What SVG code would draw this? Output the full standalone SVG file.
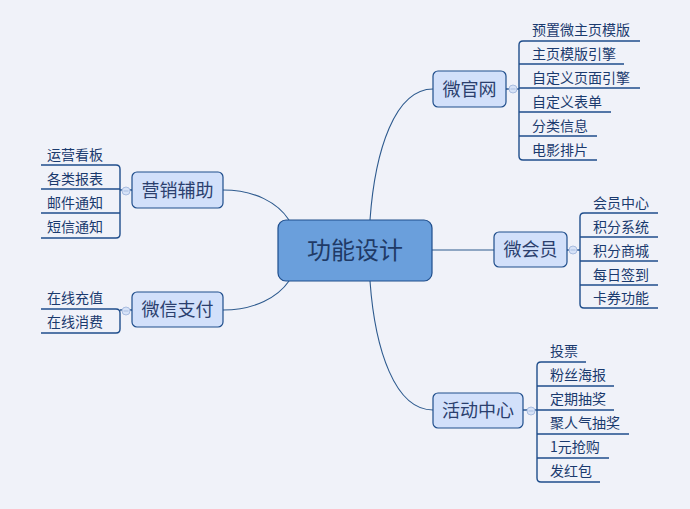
<svg xmlns="http://www.w3.org/2000/svg" width="690" height="509" viewBox="0 0 690 509">
<style>
.bg{fill:#f0f2f9}
.main{fill:#6a9fdc;stroke:#1f4e8c;stroke-width:1.2}
.sub{fill:#d2e0fa;stroke:#1f4e8c;stroke-width:1.2}
.mt{font-family:"Noto Sans CJK SC","Noto Sans",sans-serif;font-size:24px;fill:#1f3a66;text-anchor:middle}
.st{font-family:"Noto Sans CJK SC","Noto Sans",sans-serif;font-size:18px;fill:#2b3f6e;text-anchor:middle}
.lt{font-family:"Noto Sans CJK SC","Noto Sans",sans-serif;font-size:14px;fill:#1a3a6e}
.conn{fill:none;stroke:#2d5a8e;stroke-width:1.1}
.br{fill:none;stroke:#1f4e8c;stroke-width:1.4}
.cc{fill:#d6e2f7;stroke:#a9bde0;stroke-width:1}
.cm{stroke:#a9bde0;stroke-width:1}
</style>
<rect class="bg" x="0" y="0" width="690" height="509"/>
<g id="connectors">
<path class="conn" d="M370,220 C375,150 395,89 433,89"/>
<path class="conn" d="M432,250 L494,250"/>
<path class="conn" d="M370,281 C375,350 395,410 433,410"/>
<path class="conn" d="M223,190 C255,190 278,203 289,220"/>
<path class="conn" d="M223,310 C255,310 278,297 289,281"/>
</g>
<g id="center">
<rect class="main" x="278" y="220" width="154" height="61" rx="8"/>
<text class="mt" x="355" y="259">功能设计</text>
</g>
<g id="weiguanwang">
<rect class="sub" x="433" y="71" width="73" height="36" rx="5"/>
<text class="st" x="469.5" y="95.5">微官网</text>
<line class="br" x1="506" y1="89" x2="519" y2="89"/>
<circle class="cc" cx="513" cy="89" r="4"/><line class="cm" x1="510.5" y1="89" x2="515.5" y2="89"/>
<path class="br" d="M523,41 Q519,41 519,45 V156 Q519,160 523,160"/>
<path class="br" d="M523,41 H640 M519,64 H624 M519,88 H640 M519,112 H611 M519,136 H597 M523,160 H597"/>
<text class="lt" x="532" y="35">预置微主页模版</text>
<text class="lt" x="532" y="59">主页模版引擎</text>
<text class="lt" x="532" y="83">自定义页面引擎</text>
<text class="lt" x="532" y="107">自定义表单</text>
<text class="lt" x="532" y="131">分类信息</text>
<text class="lt" x="532" y="155">电影排片</text>
</g>
<g id="weihuiyuan">
<rect class="sub" x="494" y="232" width="73" height="35" rx="5"/>
<text class="st" x="530.5" y="256">微会员</text>
<line class="br" x1="567" y1="250" x2="580" y2="250"/>
<circle class="cc" cx="573" cy="250" r="4"/><line class="cm" x1="570.5" y1="250" x2="575.5" y2="250"/>
<path class="br" d="M584,213 Q580,213 580,217 V304 Q580,308 584,308"/>
<path class="br" d="M584,213 H658 M580,237 H658 M580,261 H658 M580,285 H658 M584,308 H658"/>
<text class="lt" x="593" y="208">会员中心</text>
<text class="lt" x="593" y="232">积分系统</text>
<text class="lt" x="593" y="256">积分商城</text>
<text class="lt" x="593" y="280">每日签到</text>
<text class="lt" x="593" y="303">卡券功能</text>
</g>
<g id="huodongzhongxin">
<rect class="sub" x="433" y="393" width="90" height="35" rx="5"/>
<text class="st" x="478" y="417">活动中心</text>
<line class="br" x1="523" y1="410" x2="537" y2="410"/>
<circle class="cc" cx="531" cy="411" r="4"/><line class="cm" x1="528.5" y1="411" x2="533.5" y2="411"/>
<path class="br" d="M541,362 Q537,362 537,366 V478 Q537,482 541,482"/>
<path class="br" d="M541,362 H586 M537,386 H614 M537,410 H614 M537,434 H629 M537,458 H609 M541,482 H600"/>
<text class="lt" x="550" y="356">投票</text>
<text class="lt" x="550" y="380">粉丝海报</text>
<text class="lt" x="550" y="404">定期抽奖</text>
<text class="lt" x="550" y="428">聚人气抽奖</text>
<text class="lt" x="550" y="452">1元抢购</text>
<text class="lt" x="550" y="476">发红包</text>
</g>
<g id="yingxiaofuzhu">
<rect class="sub" x="132" y="172" width="91" height="36" rx="5"/>
<text class="st" x="177.5" y="196.5">营销辅助</text>
<line class="br" x1="120" y1="190" x2="132" y2="190"/>
<circle class="cc" cx="126" cy="191" r="4"/><line class="cm" x1="123.5" y1="191" x2="128.5" y2="191"/>
<path class="br" d="M116,165 Q120,165 120,169 V234 Q120,238 116,238"/>
<path class="br" d="M41,165 H116 M41,189 H120 M41,213 H120 M41,238 H116"/>
<text class="lt" x="47" y="160">运营看板</text>
<text class="lt" x="47" y="184">各类报表</text>
<text class="lt" x="47" y="208">邮件通知</text>
<text class="lt" x="47" y="232">短信通知</text>
</g>
<g id="weixinzhifu">
<rect class="sub" x="132" y="292" width="91" height="35" rx="5"/>
<text class="st" x="177.5" y="316">微信支付</text>
<line class="br" x1="120" y1="310" x2="132" y2="310"/>
<circle class="cc" cx="126" cy="311" r="4"/><line class="cm" x1="123.5" y1="311" x2="128.5" y2="311"/>
<path class="br" d="M116,309 Q120,309 120,313 V329 Q120,333 116,333"/>
<path class="br" d="M41,309 H116 M41,333 H116"/>
<text class="lt" x="47" y="303">在线充值</text>
<text class="lt" x="47" y="327">在线消费</text>
</g>
</svg>
